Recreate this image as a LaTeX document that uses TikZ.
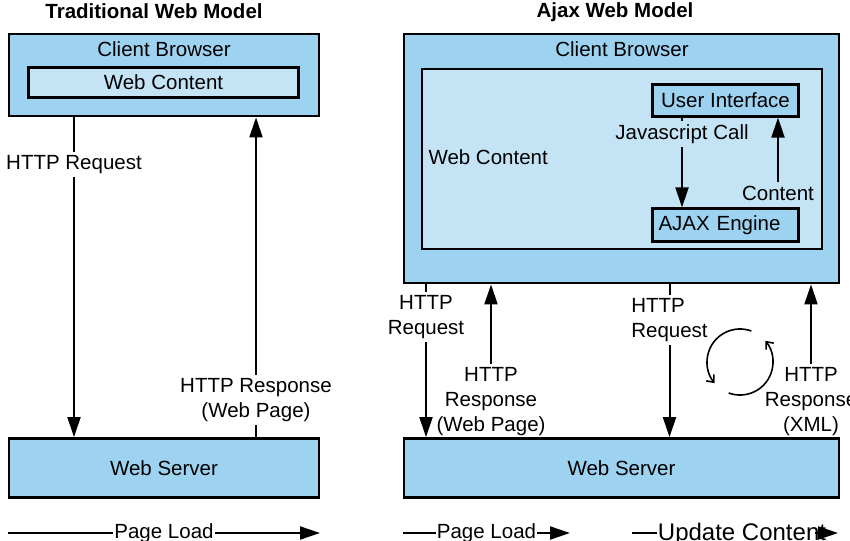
\documentclass[tikz,border=0pt]{standalone}
\usepackage{fontspec}
\setmainfont{Liberation Sans}
\usetikzlibrary{arrows.meta}
\definecolor{browser}{HTML}{9DD3F0}
\definecolor{webfill}{HTML}{C4E4F6}
\begin{document}
\begin{tikzpicture}[x=1pt,y=-1pt,font=\fontsize{20.5}{25}\selectfont]
\tikzset{box/.style={draw,line width=2.8pt,fill=#1,inner sep=0pt},
flow/.style={-{Triangle[length=20pt,width=13pt]},line width=2pt},
cyc/.style={-{Straight Barb[length=6pt,width=10pt]},line width=1.6pt},
lbl/.style={align=center}}
\useasboundingbox (0,0) rectangle (850,540);
% traditional model
\node[font=\fontsize{20.5}{25}\selectfont\bfseries] (titleL) at (154,11) {Traditional Web Model};
\node[box=browser,minimum width=310pt,minimum height=82pt] (cliL) at (164,75) {};
\node (cliLt) at (164,49) {Client Browser};
\node[box=webfill,line width=2.2pt,minimum width=270pt,minimum height=30pt] (webL) at (163.5,82.5) {Web Content};
\node[box=browser,minimum width=310pt,minimum height=59pt] (srvL) at (164,468) {Web Server};
\node[lbl] (reqL) at (74,164.5) {HTTP Request};
\node[lbl] (resL) at (256,400) {HTTP Response\\(Web Page)};
\draw[line width=2pt] (cliL.south -| reqL) -- (reqL.north);
\draw[flow] (reqL.south) -- (srvL.north -| reqL);
\draw[line width=2pt] (srvL.north -| resL) -- (resL.south);
\draw[flow] (resL.north) -- (cliL.south -| resL);
\coordinate (plLa) at (8,533);
\coordinate (plLb) at (320,533);
\draw[flow] (plLa) -- (plLb) node[midway,fill=white,inner sep=1pt] (plL) {Page Load};
% ajax model
\node[font=\fontsize{20.5}{25}\selectfont\bfseries] (titleR) at (615,12) {Ajax Web Model};
\node[box=browser,minimum width=435pt,minimum height=249pt] (cliR) at (621.5,158.5) {};
\node (cliRt) at (622,49) {Client Browser};
\node[box=webfill,line width=2.2pt,minimum width=400pt,minimum height=180pt] (webR) at (622,159) {};
\node[anchor=west] (webRt) at (425,157) {Web Content};
\node[box=browser,line width=2.2pt,minimum width=146pt,minimum height=32pt] (uiR) at (725.5,100.5) {User Interface};
\node[box=browser,line width=2.2pt,minimum width=146pt,minimum height=33pt,text width=134pt,align=left] (ajR) at (725.5,225) {AJAX Engine};
\node[lbl] (js) at (682,134) {Javascript Call};
\node[lbl] (cnt) at (778,193) {Content};
\draw[line width=2pt] (uiR.south -| js) -- (js.north);
\draw[flow] (js.south) -- (ajR.north -| js);
\draw[flow] (cnt.north) -- (uiR.south -| cnt);
\node[box=browser,minimum width=435pt,minimum height=59pt] (srvR) at (621.5,468) {Web Server};
\node[lbl] (reqRa) at (426,317) {HTTP\\Request};
\node[lbl] (resRa) at (491,401.5) {HTTP\\Response\\(Web Page)};
\node[align=left] (reqRb) at (669.5,320) {HTTP\\Request};
\node[lbl] (resRb) at (811,401.5) {HTTP\\Response\\(XML)};
\draw[line width=2pt] (cliR.south -| reqRa) -- (reqRa.north);
\draw[flow] (reqRa.south) -- (srvR.north -| reqRa);
\draw[flow] (resRa.north) -- (cliR.south -| resRa);
\draw[line width=2pt] (cliR.south -| reqRb) -- (reqRb.north);
\draw[flow] (reqRb.south) -- (srvR.north -| reqRb);
\draw[flow] (resRb.north) -- (cliR.south -| resRb);
% refresh cycle
\draw[cyc] (740,362) ++(-70:33) arc[start angle=-70,end angle=-220,radius=33];
\draw[cyc] (740,362) ++(110:33) arc[start angle=110,end angle=-40,radius=33];
\coordinate (plRa) at (403,533);
\coordinate (plRb) at (570,533);
\draw[flow] (plRa) -- (plRb) node[midway,fill=white,inner sep=1pt] (plR) {Page Load};
\coordinate (upRa) at (632,533);
\coordinate (upRb) at (838,533);
\node[font=\fontsize{24}{28}\selectfont,inner sep=1pt] (upR) at (742,534) {Update Content};
\draw[line width=2pt] (upRa) -- (upR.west |- upRa);
\draw[flow] ([xshift=-12pt]upR.east |- upRa) -- (upRb);
\end{tikzpicture}
\end{document}
